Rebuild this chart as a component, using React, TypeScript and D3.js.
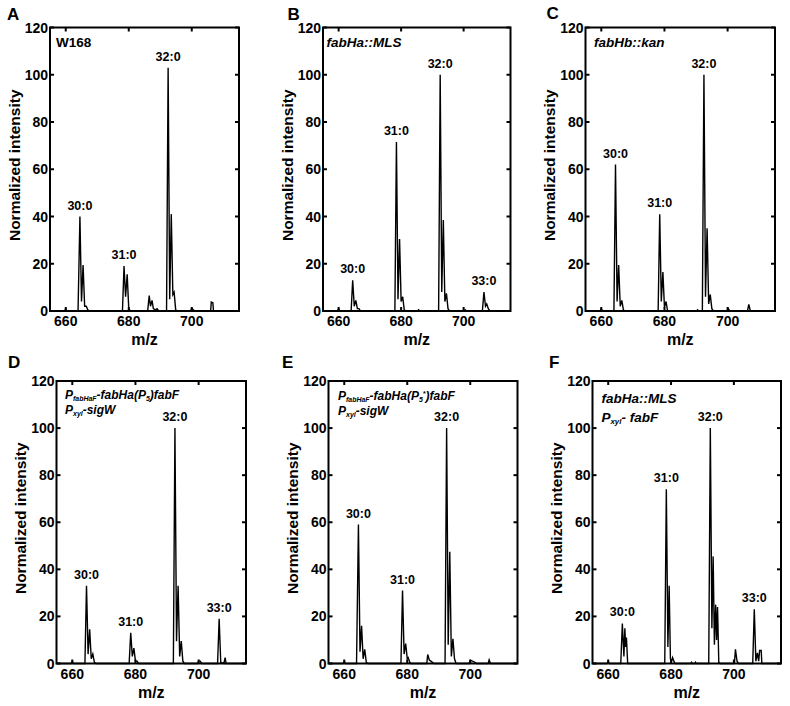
import React from 'react';
import * as d3 from 'd3';

type Pt = [number, number];

const mzDomain: [number, number] = [655, 715];
const intensityDomain: [number, number] = [0, 120];
const xTickValues = [660, 680, 700];
const yTickValues = [0, 20, 40, 60, 80, 100, 120];
const panelLetters = ['A', 'B', 'C', 'D', 'E', 'F'];
const xAxisTitle = 'm/z';
const yAxisTitle = 'Normalized intensity';

const traceA: Pt[] = [
  [655, 0], [659.6, 0], [660, 1], [660.4, 0],
  [663.9, 0], [664.5, 40], [665, 4], [665.5, 19.5], [666, 2], [666.5, 2], [667, 0.5], [667.5, 0],
  [678, 0], [678.5, 19], [679, 6], [679.5, 15.5], [680, 1], [680.5, 0],
  [686, 0], [686.5, 6.5], [686.9, 2], [687.4, 4.5], [687.8, 1], [688.5, 0.5], [689, 1], [689.5, 0],
  [692, 0], [692.5, 103], [693, 5], [693.5, 41], [694, 7], [694.4, 8], [694.9, 0.5], [695.4, 0],
  [699.6, 0], [700, 1.2], [700.5, 0.5], [701, 0],
  [706, 0], [706.2, 3.8], [706.7, 3.5], [706.9, 0], [715, 0],
];
const traceB: Pt[] = [
  [655, 0], [659.6, 0], [660, 1], [660.4, 0],
  [664, 0], [664.5, 13], [665, 2], [665.5, 4.5], [666, 1], [666.5, 1], [667, 0],
  [678, 0], [678.5, 71.5], [679, 5], [679.5, 30.5], [680, 4], [680.5, 6], [681, 0.5], [681.5, 0],
  [685.3, 0], [685.6, 0.5], [686, 0],
  [692, 0], [692.5, 100], [693, 8], [693.5, 38.5], [694, 4], [694.5, 7.5], [695, 1], [695.5, 0],
  [700.2, 0], [700.5, 0.5], [701, 0],
  [706, 0], [706.5, 8], [707, 2], [707.4, 3], [707.9, 1], [708.4, 0], [715, 0],
];
const traceC: Pt[] = [
  [655, 0], [659.6, 0], [660, 1], [660.4, 0],
  [664, 0], [664.5, 62], [665, 4], [665.5, 19.5], [666, 2], [666.5, 4.5], [667, 0.5], [667.5, 0],
  [678, 0], [678.5, 41], [679, 4], [679.5, 16.5], [680, 1.5], [680.5, 4], [681, 0],
  [690.2, 0], [690.5, 0.5], [690.8, 0],
  [692, 0], [692.5, 100], [693, 6], [693.5, 35], [694, 3], [694.5, 7], [695, 1], [695.5, 0],
  [699.8, 0], [700.2, 1], [700.7, 0],
  [706.3, 0], [706.7, 2.8], [707.2, 0], [715, 0],
];
const traceD: Pt[] = [
  [655, 0], [659.6, 0], [660, 1], [660.4, 0],
  [664, 0], [664.5, 33], [665, 4], [665.5, 14.5], [666, 2], [666.5, 4], [667, 0.5], [667.5, 0],
  [678, 0], [678.5, 13], [679, 3], [679.5, 6.5], [680, 1], [680.5, 1], [681, 0],
  [692, 0], [692.5, 100], [693, 9.5], [693.5, 33], [694, 3], [694.5, 9.5], [695, 1], [695.5, 0],
  [699.6, 0], [700, 1], [700.5, 1], [701, 0],
  [706, 0], [706.5, 19], [707, 0.5], [708, 0], [708.4, 2.5], [708.7, 0], [715, 0],
];
const traceE: Pt[] = [
  [655, 0], [659.6, 0], [660, 1], [660.4, 0],
  [663.9, 0], [664.5, 59], [665, 5], [665.5, 16], [666, 2], [666.5, 6], [667, 0.5], [667.5, 0],
  [678, 0], [678.5, 31], [679, 4], [679.5, 8.5], [680, 2], [680.3, 2.5], [680.8, 0.5], [681.2, 0],
  [686.2, 0], [686.5, 3.8], [687, 1.5], [687.5, 1], [688, 0.5], [688.5, 0],
  [692, 0], [692.5, 100], [693, 8], [693.5, 47.5], [694, 3], [694.5, 10.5], [695, 2], [695.5, 0],
  [699.6, 0], [700, 1.3], [700.7, 1], [701.5, 0.5], [702, 0],
  [705.7, 0], [706, 1.5], [706.4, 0], [715, 0],
];
const traceF: Pt[] = [
  [655, 0], [659.6, 0], [660, 1], [660.4, 0],
  [664, 0], [664.5, 17], [665, 3], [665.3, 15], [665.55, 7], [665.8, 11], [666.2, 0],
  [678, 0], [678.5, 74], [679, 7], [679.4, 33], [679.8, 2], [680.2, 1], [680.5, 2.5], [680.9, 1], [681.3, 0],
  [686.3, 0], [686.5, 0.5], [686.8, 0], [687.6, 0], [687.8, 0.5], [688, 0],
  [692, 0], [692.5, 100], [693, 15], [693.4, 45.5], [693.8, 8], [694.2, 25], [694.5, 10], [694.8, 24], [695.2, 0.5], [695.6, 0],
  [700, 0], [700.2, 0.5], [700.5, 6], [701, 1], [701.5, 0],
  [706, 0], [706.5, 23], [707, 1], [707.5, 4.5], [707.9, 1], [708.2, 5.5], [708.7, 5.5], [708.9, 0], [715, 0],
];

type PeakLabel = [string, number, number];
const labelsA: PeakLabel[] = [['30:0', 664.5, 40], ['31:0', 678.5, 19], ['32:0', 692.5, 103]];
const labelsB: PeakLabel[] = [['30:0', 664.5, 13], ['31:0', 678.5, 71.5], ['32:0', 692.5, 100], ['33:0', 706.5, 8]];
const labelsC: PeakLabel[] = [['30:0', 664.5, 62], ['31:0', 678.5, 41], ['32:0', 692.5, 100]];
const labelsD: PeakLabel[] = [['30:0', 664.5, 33], ['31:0', 678.5, 13], ['32:0', 692.5, 100], ['33:0', 706.5, 19]];
const labelsE: PeakLabel[] = [['30:0', 664.5, 59], ['31:0', 678.5, 31], ['32:0', 692.5, 100]];
const labelsF: PeakLabel[] = [['30:0', 664.5, 17], ['31:0', 678.5, 74], ['32:0', 692.5, 100], ['33:0', 706.5, 23]];

type Seg = { t: string; sub?: boolean; sup?: boolean; it?: boolean };
const annA: Seg[][] = [[{ t: 'W168' }]];
const annB: Seg[][] = [[{ t: 'fabHa::MLS', it: true }]];
const annC: Seg[][] = [[{ t: 'fabHb::kan', it: true }]];
const annD: Seg[][] = [
  [{ t: 'P', it: true }, { t: 'fabHaF', sub: true, it: true }, { t: '-fabHa(P', it: true }, { t: '5', sub: true, it: true }, { t: ')fabF', it: true }],
  [{ t: 'P', it: true }, { t: 'xyl', sub: true, it: true }, { t: '-sigW', it: true }],
];
const annE: Seg[][] = [
  [{ t: 'P', it: true }, { t: 'fabHaF', sub: true, it: true }, { t: '-fabHa(P', it: true }, { t: '5', sub: true, it: true }, { t: '*', sup: true, it: true }, { t: ')fabF', it: true }],
  [{ t: 'P', it: true }, { t: 'xyl', sub: true, it: true }, { t: '-sigW', it: true }],
];
const annF: Seg[][] = [
  [{ t: 'fabHa::MLS', it: true }],
  [{ t: 'P', it: true }, { t: 'xyl', sub: true, it: true }, { t: '- fabF', it: true }],
];

const traces = [traceA, traceB, traceC, traceD, traceE, traceF];
const peakLabels = [labelsA, labelsB, labelsC, labelsD, labelsE, labelsF];
const annotations = [annA, annB, annC, annD, annE, annF];

const layouts = [
  { left: 50, right: 239, top: 27.5, bottom: 311, lx: 7, ly: 20, ax: 56, ay: 47, as: 13.5, al: 15 },
  { left: 323, right: 510.5, top: 27.5, bottom: 311, lx: 287.5, ly: 20, ax: 326.5, ay: 47, as: 13.5, al: 15 },
  { left: 585.5, right: 775, top: 27.5, bottom: 311, lx: 546.5, ly: 19, ax: 594, ay: 47, as: 13.5, al: 15 },
  { left: 56.5, right: 246, top: 381, bottom: 663.5, lx: 8, ly: 368, ax: 65, ay: 399, as: 12, al: 14.5 },
  { left: 328.5, right: 517.5, top: 381, bottom: 663.5, lx: 282, ly: 368, ax: 338, ay: 400, as: 12, al: 14.5 },
  { left: 592.5, right: 781, top: 381, bottom: 663.5, lx: 549, ly: 368, ax: 601.5, ay: 403, as: 13.5, al: 19 },
];

const FONT = "'Liberation Sans', Arial, Helvetica, sans-serif";

function AnnLine({ segs, x, y, size }: { segs: Seg[]; x: number; y: number; size: number }) {
  let shift = 0;
  return (
    <text x={x} y={y} fontSize={size} fontWeight="bold" fontFamily={FONT}>
      {segs.map((s, i) => {
        const target = s.sub ? size * 0.18 : s.sup ? -size * 0.35 : 0;
        const dy = target - shift;
        shift = target;
        return (
          <tspan key={i} dy={dy} fontSize={s.sub || s.sup ? size * 0.58 : size} fontStyle={s.it ? 'italic' : 'normal'}>
            {s.t}
          </tspan>
        );
      })}
    </text>
  );
}

function Panel({ idx }: { idx: number }) {
  const lay = layouts[idx];
  const x = d3.scaleLinear().domain(mzDomain).range([lay.left, lay.right]);
  const y = d3.scaleLinear().domain(intensityDomain).range([lay.bottom, lay.top]);
  const line = d3.line<Pt>().x((d) => x(d[0])).y((d) => y(d[1]));
  const tickLen = 4;
  const midY = (lay.top + lay.bottom) / 2 - 4;
  return (
    <g>
      <path d={line(traces[idx]) || ''} fill="none" stroke="#000" strokeWidth={1.4} strokeLinejoin="miter" />
      <rect x={lay.left} y={lay.top} width={lay.right - lay.left} height={lay.bottom - lay.top} fill="none" stroke="#000" strokeWidth={2} />
      {yTickValues.map((v) => (
        <g key={'y' + v}>
          <line x1={lay.left} x2={lay.left + tickLen} y1={y(v)} y2={y(v)} stroke="#000" strokeWidth={2} />
          <line x1={lay.right} x2={lay.right - tickLen} y1={y(v)} y2={y(v)} stroke="#000" strokeWidth={2} />
          <text x={lay.left - 2} y={y(v)} dy="0.36em" textAnchor="end" fontSize={14} fontWeight="bold" fontFamily={FONT}>
            {v}
          </text>
        </g>
      ))}
      {xTickValues.map((v) => (
        <g key={'x' + v}>
          <line x1={x(v)} x2={x(v)} y1={lay.bottom} y2={lay.bottom - tickLen} stroke="#000" strokeWidth={2} />
          <line x1={x(v)} x2={x(v)} y1={lay.top} y2={lay.top + tickLen} stroke="#000" strokeWidth={2} />
          <text x={x(v)} y={lay.bottom + 15} textAnchor="middle" fontSize={14} fontWeight="bold" fontFamily={FONT}>
            {v}
          </text>
        </g>
      ))}
      <text x={(lay.left + lay.right) / 2} y={lay.bottom + 34} textAnchor="middle" fontSize={16} fontWeight="bold" fontFamily={FONT}>
        {xAxisTitle}
      </text>
      <text
        transform={`translate(${lay.left - 36},${midY}) rotate(-90)`}
        dy="0.36em"
        textAnchor="middle"
        fontSize={15.5}
        fontWeight="bold"
        fontFamily={FONT}
      >
        {yAxisTitle}
      </text>
      <text x={lay.lx} y={lay.ly} fontSize={17} fontWeight="bold" fontFamily={FONT}>
        {panelLetters[idx]}
      </text>
      {peakLabels[idx].map(([t, mz, v]) => (
        <text key={t} x={x(mz)} y={y(v) - 7} textAnchor="middle" fontSize={12.5} fontWeight="bold" fontFamily={FONT}>
          {t}
        </text>
      ))}
      {annotations[idx].map((segs, i) => (
        <AnnLine key={i} segs={segs} x={lay.ax} y={lay.ay + i * lay.al} size={lay.as} />
      ))}
    </g>
  );
}

export default function App() {
  return (
    <svg width={790} height={706} style={{ position: 'absolute', left: 0, top: 0, background: '#fff' }}>
      <rect width={790} height={706} fill="#fff" />
      {layouts.map((_, i) => (
        <Panel key={i} idx={i} />
      ))}
    </svg>
  );
}
